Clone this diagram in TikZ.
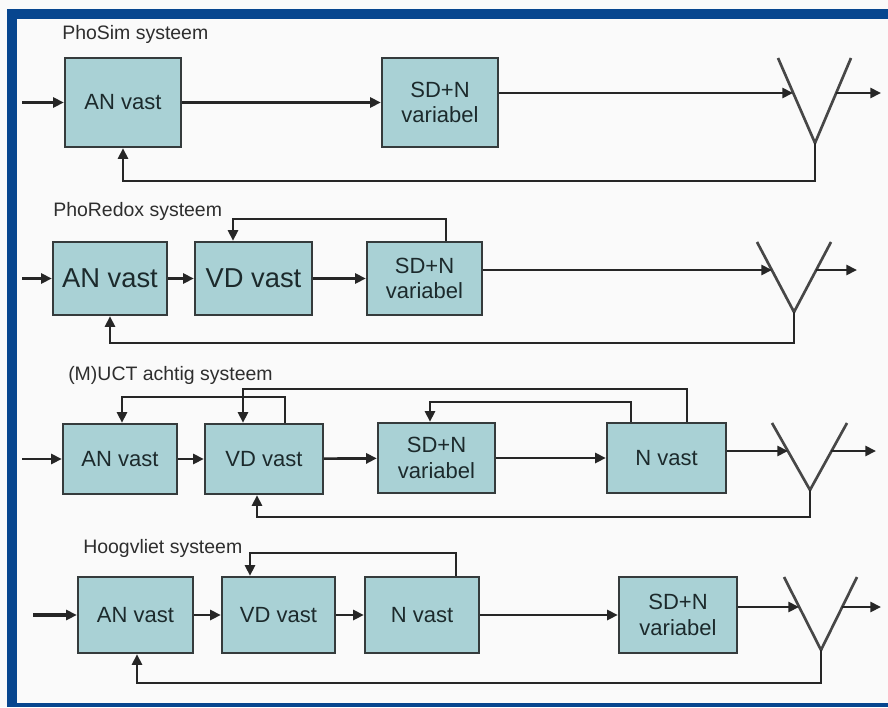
\documentclass[tikz,border=0pt]{standalone}
\usepackage{fontspec}
\setmainfont{Liberation Sans}
\usetikzlibrary{arrows.meta}

\definecolor{frameblue}{HTML}{07468F}
\definecolor{boxfill}{HTML}{A9D1D5}
\definecolor{boxline}{HTML}{353B3C}
\definecolor{linecol}{HTML}{262626}
\definecolor{txtcol}{HTML}{1C2A2C}
\definecolor{titlecol}{HTML}{2E2E2E}

\tikzset{
  blk/.style={draw=boxline, fill=boxfill, line width=1.8pt, inner sep=0pt,
    text=txtcol, align=center, font=\fontsize{16.5}{19}\selectfont},
  sz/.style 2 args={minimum width=#1*0.75pt, minimum height=#2*0.75pt},
  bigtxt/.style={font=\fontsize{20.5}{23}\selectfont},
  flow/.style={draw=linecol, line width=2pt, -{Triangle[length=8pt,width=7.5pt]}},
  vee/.style={draw=linecol!85, line width=2pt},
  ttl/.style={anchor=west, text=titlecol, inner sep=0pt, font=\fontsize{14.6}{17}\selectfont}
}

\begin{document}
\begin{tikzpicture}[x=0.75pt,y=-0.75pt]
\useasboundingbox (0,0) rectangle (888,707);
\fill[white!98!black] (0,0) rectangle (888,707);
% frame
\fill[frameblue] (7,9) rectangle (888,19);
\fill[frameblue] (7,9) rectangle (17,707);
\fill[frameblue] (7,703) rectangle (888,707);

% ---------- PhoSim ----------
\node[ttl] (t1) at (62,34) {PhoSim systeem};
\node[blk, sz={116}{89}] (a1) at (123,102.5) {AN vast};
\node[blk, sz={116}{89}] (s1) at (440,102.5) {SD+N\\variabel};
\coordinate (in1) at (22,102.5);
\coordinate (vl1) at (778,58);
\coordinate (vr1) at (851,58);
\coordinate (vb1) at (815,143);
\coordinate (h1) at (793,93);
\coordinate (o1) at (836,93);
\coordinate (e1) at (881,93);
\coordinate (f1) at (123,181);
\draw[vee] (vl1) -- (vb1) -- (vr1);
\draw[flow] (in1) -- (a1);
\draw[flow] (a1) -- (s1);
\draw[flow] (s1.east |- h1) -- (h1);
\draw[flow] (o1) -- (e1);
\draw[flow] (vb1) |- (f1) -- (a1.south -| f1);

% ---------- PhoRedox ----------
\node[ttl] (t2) at (53,211) {PhoRedox systeem};
\node[blk, bigtxt, sz={114}{73}] (a2) at (110,278.5) {AN vast};
\node[blk, bigtxt, sz={117}{73}] (d2) at (253.5,278.5) {VD vast};
\node[blk, sz={115}{73}] (s2) at (424.5,278.5) {SD+N\\variabel};
\coordinate (in2) at (22,278.5);
\coordinate (vl2) at (757,242);
\coordinate (vr2) at (831,242);
\coordinate (vb2) at (794,312);
\coordinate (h2) at (772,270);
\coordinate (o2) at (816,270);
\coordinate (e2) at (857,270);
\coordinate (u2) at (446,219);
\coordinate (w2) at (233,219);
\coordinate (f2) at (110,343);
\draw[vee] (vl2) -- (vb2) -- (vr2);
\draw[flow] (in2) -- (a2);
\draw[flow] (a2) -- (d2);
\draw[flow] (d2) -- (s2);
\draw[flow] (s2.north -| u2) -- (u2) -- (w2) -- (d2.north -| w2);
\draw[flow] (s2.east |- h2) -- (h2);
\draw[flow] (o2) -- (e2);
\draw[flow] (vb2) |- (f2) -- (a2.south -| f2);

% ---------- (M)UCT ----------
\node[ttl] (t3) at (68,375) {(M)UCT achtig systeem};
\node[blk, sz={114}{70}] (a3) at (120,459) {AN vast};
\node[blk, sz={118}{70}] (d3) at (264,459) {VD vast};
\node[blk, sz={117}{70}] (s3) at (436.5,458) {SD+N\\variabel};
\node[blk, sz={119}{70}] (n3) at (666.5,458) {N vast};
\coordinate (in3) at (22,459);
\coordinate (vl3) at (772,423);
\coordinate (vr3) at (847,423);
\coordinate (vb3) at (810,490);
\coordinate (h3) at (788,451);
\coordinate (o3) at (831,451);
\coordinate (e3) at (876,451);
\coordinate (p3a) at (285,397);
\coordinate (p3b) at (122,397);
\coordinate (q3a) at (687,389);
\coordinate (q3b) at (243,389);
\coordinate (r3a) at (631,402);
\coordinate (r3b) at (430,402);
\coordinate (f3) at (257,517);
\draw[vee] (vl3) -- (vb3) -- (vr3);
\draw[flow] (in3) -- (a3);
\draw[flow] (a3) -- (d3);
\draw[flow] (d3) -- (s3);
\draw[flow] (s3) -- (n3);
\draw[flow] (d3.north -| p3a) -- (p3a) -- (p3b) -- (a3.north -| p3b);
\draw[flow] (n3.north -| q3a) -- (q3a) -- (q3b) -- (d3.north -| q3b);
\draw[flow] (n3.north -| r3a) -- (r3a) -- (r3b) -- (s3.north -| r3b);
\draw[flow] (n3.east |- h3) -- (h3);
\draw[flow] (o3) -- (e3);
\draw[flow] (vb3) |- (f3) -- (d3.south -| f3);

% ---------- Hoogvliet ----------
\node[ttl] (t4) at (83,548) {Hoogvliet systeem};
\node[blk, sz={115}{76}] (a4) at (135.5,615) {AN vast};
\node[blk, sz={113}{76}] (d4) at (278.5,615) {VD vast};
\node[blk, sz={114}{76}] (n4) at (422,615) {N vast};
\node[blk, sz={118}{76}] (s4) at (678,615) {SD+N\\variabel};
\coordinate (in4) at (33,615);
\coordinate (vl4) at (784,577);
\coordinate (vr4) at (857,577);
\coordinate (vb4) at (821,650);
\coordinate (h4) at (799,607);
\coordinate (o4) at (842,607);
\coordinate (e4) at (881,607);
\coordinate (u4) at (456,553);
\coordinate (w4) at (250,553);
\coordinate (f4) at (137,683);
\draw[vee] (vl4) -- (vb4) -- (vr4);
\draw[flow, line width=2.5pt] (in4) -- (a4);
\draw[flow] (a4) -- (d4);
\draw[flow] (d4) -- (n4);
\draw[flow] (n4.north -| u4) -- (u4) -- (w4) -- (d4.north -| w4);
\draw[flow] (n4) -- (s4);
\draw[flow] (s4.east |- h4) -- (h4);
\draw[flow] (o4) -- (e4);
\draw[flow] (vb4) |- (f4) -- (a4.south -| f4);
\end{tikzpicture}
\end{document}
